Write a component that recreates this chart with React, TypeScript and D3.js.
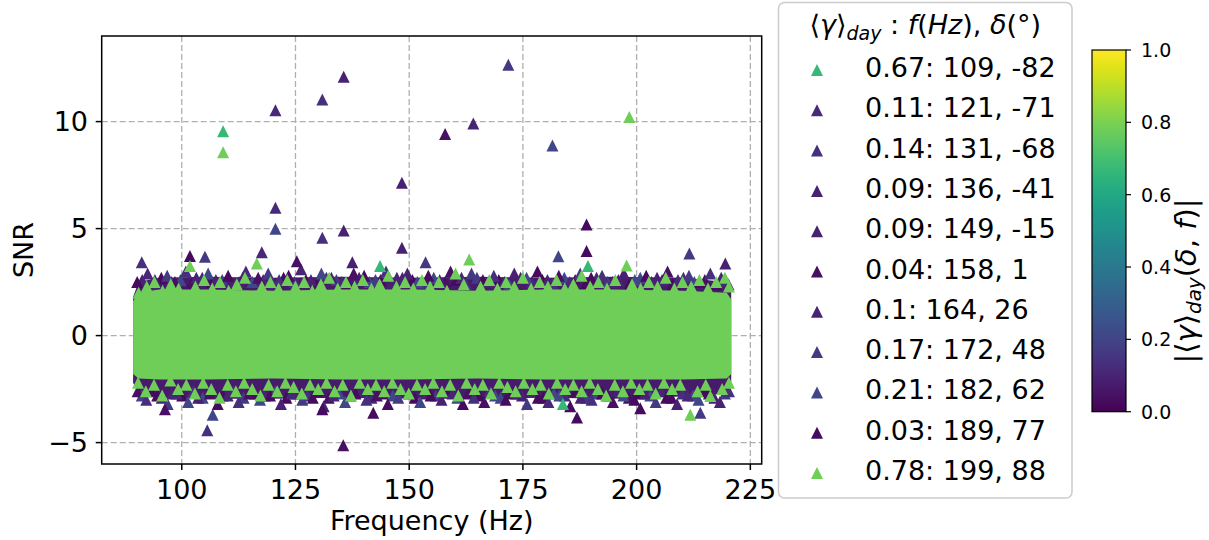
import React from 'react';
import * as d3 from 'd3';

const W = 1209;
const H = 540;

// legend / series info
const gammaValues = [0.67, 0.11, 0.14, 0.09, 0.09, 0.04, 0.1, 0.17, 0.21, 0.03, 0.78];
const sourceFreqs = [109, 121, 131, 136, 149, 158, 164, 172, 182, 189, 199];
const sourceDecs = [-82, -71, -68, -41, -15, 1, 26, 48, 62, 77, 88];

const xTicks = [100, 125, 150, 175, 200, 225];
const yTicks = [-5, 0, 5, 10];
const cbTicks = [0, 0.2, 0.4, 0.6, 0.8, 1.0];

// dense noise band envelope (visible edges, SNR units)
const bandFreqs = [89.3, 90.5, 95, 105, 120, 135, 150, 165, 180, 195, 210, 219.8, 220.8];
const purpleTop = [1.8, 2.5, 2.7, 2.75, 2.7, 2.75, 2.7, 2.75, 2.7, 2.75, 2.7, 2.5, 2.0];
const purpleBot = [-2.2, -2.7, -2.9, -2.95, -2.95, -2.9, -2.95, -2.95, -2.9, -2.95, -2.85, -2.7, -2.3];
const greenTop = [1.6, 2.0, 2.15, 2.15, 2.1, 2.15, 2.15, 2.1, 2.15, 2.15, 2.1, 2.0, 1.7];
const greenBot = [-1.8, -2.0, -2.05, -2.05, -2.0, -2.05, -2.05, -2.0, -2.05, -2.05, -2.05, -2.0, -1.8];

// [freq, snr, seriesIndex]
const signalPoints: [number, number, number][] = [
  [109.1, 9.55, 0], [143.6, 3.25, 0], [189.3, 3.25, 0], [183.8, -3.2, 0],
  [120.6, 10.53, 1], [120.6, 5.97, 1], [117.6, 3.9, 1],
  [130.9, 11.03, 2], [130.9, 4.57, 2], [105.6, -4.42, 2], [91.2, 3.43, 2],
  [135.6, 12.09, 3], [135.6, 4.91, 3], [137.5, 3.43, 3], [219.5, 3.37, 3],
  [148.4, 7.14, 4], [148.4, 4.1, 4],
  [157.9, 9.42, 5], [135.5, -5.12, 5], [96.3, -3.44, 5], [125.3, 3.48, 5],
  [164.1, 9.91, 6],
  [171.8, 12.66, 7], [105.1, 3.69, 7], [211.6, 3.84, 7], [153.6, 3.43, 7], [214.0, -3.6, 7],
  [181.5, 8.88, 8], [182.8, 3.71, 8], [120.6, 4.99, 8], [106.8, -3.7, 8],
  [189.0, 5.19, 9], [189.0, 3.95, 9], [186.9, -3.83, 9], [142.1, -3.6, 9], [130.9, -3.44, 9], [101.8, 3.72, 9], [200.8, -3.4, 9],
  [198.4, 10.22, 10], [109.1, 8.57, 10], [211.8, -3.7, 10],
];

const topFringe: [number, number, number][] = [
  [90.2, 2.5, 9], [92.5, 2.9, 1], [94.1, 2.6, 3], [96.8, 2.8, 7], [98.5, 2.5, 5], [100.9, 3.0, 2],
  [103.2, 2.7, 6], [105.8, 2.9, 8], [107.5, 2.6, 4], [110.2, 2.8, 9], [112.6, 2.5, 3], [114.1, 3.0, 1],
  [116.8, 2.7, 5], [119.0, 2.9, 7], [121.4, 2.6, 2], [123.5, 2.8, 9], [126.2, 3.1, 6], [128.4, 2.6, 4],
  [130.7, 2.9, 8], [132.9, 2.7, 3], [135.2, 2.5, 1], [137.8, 2.9, 5], [140.1, 2.8, 9], [142.6, 2.6, 7],
  [144.9, 3.0, 2], [147.3, 2.7, 6], [149.6, 2.9, 4], [151.8, 2.5, 8], [154.2, 2.8, 9], [156.7, 2.6, 3],
  [159.1, 3.0, 5], [161.5, 2.7, 1], [163.7, 2.9, 7], [166.2, 2.6, 9], [168.6, 2.8, 2], [170.9, 2.5, 6],
  [173.1, 2.9, 4], [175.8, 2.7, 8], [178.2, 3.0, 9], [180.4, 2.6, 3], [182.9, 2.8, 5], [185.3, 2.5, 1],
  [187.6, 2.9, 7], [190.0, 2.7, 9], [192.4, 2.8, 2], [194.7, 2.5, 6], [197.2, 2.9, 4], [199.6, 2.6, 8],
  [202.1, 2.8, 9], [204.5, 2.7, 3], [206.8, 3.0, 5], [209.1, 2.6, 1], [211.5, 2.8, 7], [213.9, 2.5, 9],
  [216.2, 2.9, 2], [218.6, 2.7, 6], [220.2, 2.4, 4],
];

const topFringe2: [number, number, number][] = [
  [91.3, 2.6, 3], [93.3, 2.4, 6], [95.5, 2.7, 9], [97.7, 2.5, 2], [99.7, 2.6, 8], [102.0, 2.4, 5],
  [104.5, 2.7, 1], [106.6, 2.5, 9], [108.9, 2.6, 7], [111.4, 2.4, 4], [113.4, 2.7, 9], [115.5, 2.5, 8],
  [117.9, 2.6, 3], [120.2, 2.4, 6], [122.4, 2.7, 9], [124.8, 2.5, 2], [127.3, 2.6, 5], [129.6, 2.4, 9],
  [131.8, 2.7, 1], [134.0, 2.6, 7], [136.5, 2.4, 9], [139.0, 2.7, 4], [141.3, 2.5, 8], [143.7, 2.6, 9],
  [146.1, 2.4, 3], [148.5, 2.7, 6], [150.7, 2.6, 9], [153.0, 2.4, 2], [155.4, 2.7, 8], [157.9, 2.5, 5],
  [160.3, 2.6, 9], [162.6, 2.4, 1], [164.9, 2.7, 7], [167.4, 2.5, 4], [169.7, 2.6, 9], [172.0, 2.4, 8],
  [174.5, 2.7, 3], [177.0, 2.5, 6], [179.3, 2.6, 9], [181.6, 2.4, 2], [184.1, 2.7, 8], [186.5, 2.6, 5],
  [188.8, 2.4, 9], [191.2, 2.7, 1], [193.6, 2.5, 7], [196.0, 2.6, 4], [198.4, 2.4, 9], [200.8, 2.7, 8],
  [203.3, 2.5, 3], [205.6, 2.6, 6], [207.9, 2.4, 9], [210.3, 2.7, 2], [212.7, 2.5, 8], [215.0, 2.6, 5],
  [217.4, 2.4, 9], [219.5, 2.6, 1],
];

const bottomFringe: [number, number, number][] = [
  [90.3, -2.6, 5], [92.2, -3.0, 2], [94.6, -2.8, 9], [96.9, -3.2, 7], [98.9, -2.7, 1], [101.4, -3.1, 8],
  [103.6, -2.9, 3], [107.9, -3.2, 9], [110.1, -2.8, 6], [112.5, -3.1, 2], [114.8, -2.7, 5], [117.2, -3.0, 8],
  [119.4, -2.8, 9], [121.8, -3.2, 4], [124.1, -2.7, 1], [126.5, -3.0, 7], [128.8, -2.9, 9], [131.2, -3.3, 3],
  [133.4, -2.8, 6], [135.9, -3.1, 8], [138.2, -2.7, 9], [140.6, -3.0, 2], [142.9, -2.8, 5], [145.3, -3.2, 9],
  [147.6, -2.9, 7], [150.0, -2.7, 1], [152.4, -3.1, 8], [154.7, -2.8, 9], [157.1, -3.0, 4], [159.5, -2.7, 6],
  [161.8, -3.2, 9], [164.2, -2.9, 2], [166.5, -3.1, 5], [168.9, -2.8, 8], [171.2, -3.0, 9], [173.6, -2.7, 3],
  [175.9, -3.2, 7], [178.3, -2.9, 9], [180.6, -3.1, 1], [183.0, -2.8, 8], [185.4, -3.3, 9], [187.7, -2.9, 6],
  [190.1, -3.0, 2], [192.4, -2.7, 9], [194.8, -3.1, 5], [197.1, -2.8, 8], [199.5, -3.0, 9], [201.8, -2.7, 4],
  [204.2, -3.1, 7], [206.5, -2.9, 9], [208.9, -3.2, 3], [211.2, -2.8, 1], [213.6, -3.0, 8], [215.9, -2.7, 9],
  [218.3, -3.1, 6], [220.3, -2.6, 2],
];

const bottomFringe2: [number, number, number][] = [
  [91.2, -2.8, 8], [93.4, -2.6, 9], [95.6, -2.9, 4], [97.9, -2.7, 6], [100.1, -2.8, 9], [102.5, -2.6, 2],
  [104.6, -2.9, 8], [106.2, -2.7, 5], [109.0, -2.8, 9], [111.3, -2.6, 1], [113.6, -2.9, 7], [116.0, -2.7, 9],
  [118.3, -2.8, 3], [120.6, -2.6, 8], [123.0, -2.9, 9], [125.3, -2.7, 6], [127.6, -2.8, 2], [130.0, -2.6, 9],
  [132.3, -2.9, 5], [134.6, -2.7, 8], [137.0, -2.8, 9], [139.4, -2.6, 4], [141.7, -2.9, 1], [144.1, -2.7, 9],
  [146.4, -2.8, 8], [148.8, -2.6, 6], [151.2, -2.9, 9], [153.5, -2.7, 3], [155.9, -2.8, 7], [158.3, -2.6, 9],
  [160.6, -2.9, 8], [163.0, -2.7, 5], [165.4, -2.8, 9], [167.7, -2.6, 2], [170.1, -2.9, 8], [172.4, -2.7, 9],
  [174.8, -2.8, 4], [177.1, -2.6, 6], [179.5, -2.9, 9], [181.8, -2.7, 8], [184.2, -2.8, 1], [186.6, -2.6, 9],
  [188.9, -2.9, 7], [191.3, -2.7, 8], [193.6, -2.8, 9], [196.0, -2.6, 3], [198.3, -2.9, 5], [200.7, -2.7, 9],
  [203.0, -2.8, 8], [205.4, -2.6, 6], [207.7, -2.9, 9], [210.1, -2.7, 2], [212.4, -2.8, 8], [214.8, -2.6, 9],
  [217.1, -2.9, 4], [219.4, -2.7, 7],
];

const greenTopFringe: [number, number][] = [
  [90.5, 2.0], [92.3, 2.3], [94.0, 2.5], [95.8, 2.1], [97.6, 2.4], [99.3, 2.2], [101.8, 3.25], [103.0, 2.3],
  [104.9, 2.6], [106.7, 2.2], [108.4, 2.5], [110.3, 2.1], [112.1, 2.4], [113.9, 2.7], [116.5, 3.37], [117.6, 2.3],
  [119.5, 2.5], [121.3, 2.2], [123.2, 2.6], [125.0, 2.3], [126.9, 2.5], [128.7, 2.1], [130.6, 2.4], [132.4, 2.7],
  [134.3, 2.2], [136.1, 2.5], [138.0, 2.3], [139.8, 2.6], [141.7, 2.2], [143.5, 2.4], [145.4, 2.8], [147.2, 2.3],
  [149.1, 2.5], [150.9, 2.2], [152.8, 2.6], [154.6, 2.3], [156.5, 2.5], [158.3, 2.1], [160.2, 2.9], [162.0, 2.4],
  [163.2, 3.56], [165.7, 2.3], [167.6, 2.6], [169.4, 2.2], [171.3, 2.5], [173.1, 2.3], [175.0, 2.7], [176.8, 2.2],
  [178.7, 2.5], [180.5, 2.3], [182.4, 2.6], [184.2, 2.2], [186.1, 2.4], [187.9, 2.8], [189.8, 2.3], [191.6, 2.5],
  [193.5, 2.2], [195.3, 2.6], [197.8, 3.28], [199.0, 2.4], [200.9, 2.2], [202.7, 2.5], [204.6, 2.3], [206.4, 2.7],
  [208.3, 2.2], [210.1, 2.5], [212.0, 2.3], [213.8, 2.6], [215.7, 2.2], [217.5, 2.5], [219.4, 2.7], [220.3, 2.3],
];

const greenBottomFringe: [number, number][] = [
  [90.4, -2.2], [92.1, -2.6], [93.9, -2.3], [95.7, -2.8], [97.5, -2.1], [99.2, -2.5], [101.0, -2.3], [102.9, -2.7],
  [104.7, -2.2], [106.5, -2.5], [108.3, -2.9], [110.1, -2.3], [111.9, -2.6], [113.7, -2.2], [115.5, -2.5], [117.3, -2.8],
  [119.1, -2.3], [121.0, -2.6], [122.8, -2.2], [124.6, -2.4], [126.4, -2.7], [128.2, -2.3], [130.0, -2.5], [131.8, -2.2],
  [133.6, -2.6], [135.4, -2.3], [137.2, -2.8], [139.1, -2.2], [140.9, -2.5], [142.7, -2.3], [144.5, -2.6], [146.3, -2.2],
  [148.1, -2.5], [149.9, -2.7], [151.7, -2.3], [153.5, -2.5], [155.3, -2.2], [157.2, -2.6], [159.0, -2.3], [160.8, -2.8],
  [162.6, -2.2], [164.4, -2.5], [166.2, -2.3], [168.0, -2.7], [169.8, -2.2], [171.6, -2.4], [173.4, -2.6], [175.2, -2.2],
  [177.1, -2.5], [178.9, -2.3], [180.7, -2.7], [182.5, -2.2], [184.3, -2.5], [186.1, -2.3], [187.9, -2.6], [189.7, -2.2],
  [191.5, -2.5], [193.3, -2.8], [195.2, -2.3], [197.0, -2.6], [198.8, -2.2], [200.6, -2.5], [202.4, -2.3], [204.2, -2.7],
  [206.0, -2.2], [207.8, -2.5], [209.6, -2.3], [213.4, -2.6], [215.2, -2.3], [216.2, -2.82], [218.8, -2.5], [220.3, -2.2],
];

const FONT = 'DejaVu Sans, Verdana, sans-serif';

const tri = (s: number) => `M0,${-s / 2}L${s / 2},${s / 2}L${-s / 2},${s / 2}Z`;

export default function App() {
  const plot = { left: 101.7, right: 761.7, top: 36, bottom: 464 };
  const x = d3.scaleLinear().domain([82.4, 227.5]).range([plot.left, plot.right]);
  const y = d3.scaleLinear().domain([-6.0, 14.0]).range([plot.bottom, plot.top]);
  const color = (v: number) => d3.interpolateViridis(v);

  const idx = bandFreqs.map((_, i) => i);
  const purpleArea = d3
    .area<number>()
    .x((i) => x(bandFreqs[i]))
    .y0((i) => y(purpleBot[i]))
    .y1((i) => y(purpleTop[i]))(idx) as string;
  const greenArea = d3
    .area<number>()
    .x((i) => x(bandFreqs[i]))
    .y0((i) => y(greenBot[i]))
    .y1((i) => y(greenTop[i]))(idx) as string;

  const mk = 12;
  const triPath = tri(mk);

  const cb = { x: 1092, w: 34, top: 50, bottom: 411.7 };
  const cbScale = d3.scaleLinear().domain([0, 1]).range([cb.bottom, cb.top]);
  const gradStops = d3.range(0, 1.0001, 0.05);

  const legend = { x: 778.5, y: 2.5, w: 293.5, h: 495.5 };
  const rowBase = 77;
  const rowStep = 40.3;

  const lowerPoints = [
    ...topFringe2,
    ...bottomFringe2,
    ...topFringe,
    ...bottomFringe,
    ...signalPoints.filter((p) => p[2] !== 10),
  ];
  const greenPoints: [number, number][] = [
    ...greenTopFringe,
    ...greenBottomFringe,
    ...signalPoints.filter((p) => p[2] === 10).map((p) => [p[0], p[1]] as [number, number]),
  ];

  return (
    <svg
      width={W}
      height={H}
      style={{ position: 'absolute', left: 0, top: 0, background: '#fff' }}
      fontFamily={FONT}
    >
      <defs>
        <linearGradient id="viridisGrad" x1="0" y1="1" x2="0" y2="0">
          {gradStops.map((t) => (
            <stop key={t} offset={t} stopColor={color(t)} />
          ))}
        </linearGradient>
        <clipPath id="plotClip">
          <rect x={plot.left} y={plot.top} width={plot.right - plot.left} height={plot.bottom - plot.top} />
        </clipPath>
      </defs>

      {/* grid */}
      <g stroke="#b0b0b0" strokeWidth={1.3} strokeDasharray="6,3">
        {xTicks.map((t) => (
          <line key={'gx' + t} x1={x(t)} x2={x(t)} y1={plot.top} y2={plot.bottom} />
        ))}
        {yTicks.map((t) => (
          <line key={'gy' + t} x1={plot.left} x2={plot.right} y1={y(t)} y2={y(t)} />
        ))}
      </g>

      <g clipPath="url(#plotClip)">
        <path d={purpleArea} fill={color(0.07)} />
        {lowerPoints.map((p, i) => (
          <path key={'lp' + i} d={triPath} transform={`translate(${x(p[0])},${y(p[1])})`} fill={color(gammaValues[p[2]])} />
        ))}
        <path d={greenArea} fill={color(0.78)} />
        {greenPoints.map((p, i) => (
          <path key={'gp' + i} d={triPath} transform={`translate(${x(p[0])},${y(p[1])})`} fill={color(0.78)} />
        ))}
      </g>

      {/* spines */}
      <rect
        x={plot.left}
        y={plot.top}
        width={plot.right - plot.left}
        height={plot.bottom - plot.top}
        fill="none"
        stroke="#000"
        strokeWidth={1.5}
      />

      {/* x axis */}
      {xTicks.map((t) => (
        <g key={'xt' + t}>
          <line x1={x(t)} x2={x(t)} y1={plot.bottom} y2={plot.bottom + 6} stroke="#000" strokeWidth={1.5} />
          <text x={x(t)} y={499} textAnchor="middle" fontSize={27}>
            {t}
          </text>
        </g>
      ))}
      <text x={(plot.left + plot.right) / 2} y={530} textAnchor="middle" fontSize={27}>
        Frequency (Hz)
      </text>

      {/* y axis */}
      {yTicks.map((t) => (
        <g key={'yt' + t}>
          <line x1={plot.left - 6} x2={plot.left} y1={y(t)} y2={y(t)} stroke="#000" strokeWidth={1.5} />
          <text x={88} y={y(t)} dy="0.36em" textAnchor="end" fontSize={27}>
            {t < 0 ? '\u2212' + Math.abs(t) : t}
          </text>
        </g>
      ))}
      <text transform={`translate(33,${(plot.top + plot.bottom) / 2}) rotate(-90)`} textAnchor="middle" fontSize={27}>
        SNR
      </text>

      {/* legend */}
      <rect
        x={legend.x}
        y={legend.y}
        width={legend.w}
        height={legend.h}
        rx={6}
        fill="#fff"
        fillOpacity={0.8}
        stroke="#cccccc"
        strokeWidth={1.5}
      />
      <text x={legend.x + legend.w / 2} y={34} textAnchor="middle" fontSize={27}>
        <tspan>⟨</tspan>
        <tspan fontStyle="italic">γ</tspan>
        <tspan>⟩</tspan>
        <tspan fontStyle="italic" fontSize={19} dy={6}>
          day
        </tspan>
        <tspan dy={-6}> : </tspan>
        <tspan fontStyle="italic">f</tspan>
        <tspan>(</tspan>
        <tspan fontStyle="italic">Hz</tspan>
        <tspan>), </tspan>
        <tspan fontStyle="italic">δ</tspan>
        <tspan>(°)</tspan>
      </text>
      {gammaValues.map((g, i) => (
        <g key={'lg' + i}>
          <path d={tri(12)} transform={`translate(817,${rowBase + i * rowStep - 7})`} fill={color(g)} />
          <text x={865} y={rowBase + i * rowStep} fontSize={27}>
            {`${g}: ${sourceFreqs[i]}, ${sourceDecs[i]}`}
          </text>
        </g>
      ))}

      {/* colorbar */}
      <rect x={cb.x} y={cb.top} width={cb.w} height={cb.bottom - cb.top} fill="url(#viridisGrad)" stroke="#000" strokeWidth={1.2} />
      {cbTicks.map((t) => (
        <g key={'cb' + t}>
          <line x1={cb.x + cb.w} x2={cb.x + cb.w + 5} y1={cbScale(t)} y2={cbScale(t)} stroke="#000" strokeWidth={1.2} />
          <text x={1141} y={cbScale(t)} dy="0.36em" fontSize={19}>
            {t.toFixed(1)}
          </text>
        </g>
      ))}
      <text transform={`translate(1196,281) rotate(-90)`} textAnchor="middle" fontSize={29}>
        <tspan>|⟨</tspan>
        <tspan fontStyle="italic">γ</tspan>
        <tspan>⟩</tspan>
        <tspan fontStyle="italic" fontSize={20} dy={5}>
          day
        </tspan>
        <tspan dy={-5}>(</tspan>
        <tspan fontStyle="italic">δ</tspan>
        <tspan>, </tspan>
        <tspan fontStyle="italic">f</tspan>
        <tspan>)|</tspan>
      </text>
    </svg>
  );
}
